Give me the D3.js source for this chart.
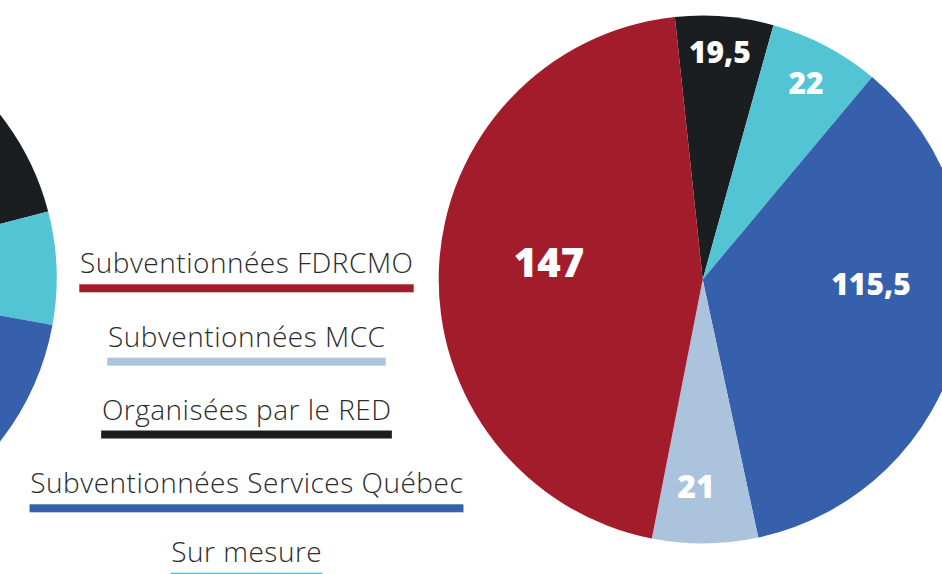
<!DOCTYPE html>
<html>
<head>
<meta charset="utf-8">
<script src="https://cdn.jsdelivr.net/npm/d3@7"></script>
<style>
  html, body { margin: 0; padding: 0; background: #ffffff; overflow: hidden; }
  svg { display: block; }
</style>
</head>
<body>
<svg id="chart" width="942" height="574"></svg>
<script>
// ---------- DATA ----------
const categories = [
  "Subventionnées FDRCMO",
  "Subventionnées MCC",
  "Organisées par le RED",
  "Subventionnées Services Québec",
  "Sur mesure"
];
// Right (fully labelled) pie
const valuesRight = [147, 21, 19.5, 115.5, 22];
const labelsRight = ["147", "21", "19,5", "115,5", "22"];
// Left pie (only a sliver visible, values estimated from visible angles)
const valuesLeft = [150, 20, 40, 100, 23];
// Clockwise drawing order of slices (indices into categories)
const sliceOrder = [2, 4, 3, 1, 0];

// ---------- STYLE ----------
const colors = ["#A31C2B", "#ABC3DD", "#1B1E21", "#3660AC", "#52C4D3"];
const textColor = "#2B2B2B";
const fontFamily = "'Open Sans', 'Noto Sans', sans-serif";
const deg = Math.PI / 180;

// label tweaks: radius as fraction of R, angle shift (deg) from slice middle, font size
const labelStyle = [
  { rf: 0.586, shift: 3.8, size: 40 },
  { rf: 0.785, shift: 2.4, size: 32 },
  { rf: 0.862, shift: -0.4, size: 30 },
  { rf: 0.638, shift: -12.3, size: 30 },
  { rf: 0.841, shift: 0, size: 30 }
];

// ---------- LAYOUT ----------
const svg = d3.select("#chart");
const R = 264;
const rightPie = { cx: 702.7, cy: 279.5, start: -6.06 * deg };
const leftPie = { cx: -207.3, cy: 278, start: 32.16 * deg };
const legendCx = 246.5;
const legendBaselines = [273.3, 346.7, 419.5, 493.3, 561.7];
const legendFontSize = 28;
const legendSpacing = 0.5;
const barGap = 11;
const barH = 8;

const arc = d3.arc().innerRadius(0).outerRadius(R);

function drawPie(values, conf, labels) {
  const ordered = sliceOrder.map(i => ({ idx: i, value: values[i] }));
  const pie = d3.pie()
    .sort(null)
    .value(d => d.value)
    .startAngle(conf.start)
    .endAngle(conf.start + 2 * Math.PI);
  const arcs = pie(ordered);
  const g = svg.append("g").attr("transform", `translate(${conf.cx},${conf.cy})`);
  g.selectAll("path.slice")
    .data(arcs)
    .join("path")
    .attr("class", "slice")
    .attr("d", arc)
    .attr("fill", d => colors[d.data.idx]);
  if (labels) {
    g.selectAll("text.val")
      .data(arcs)
      .join("text")
      .attr("class", "val")
      .each(function (d) {
        const st = labelStyle[d.data.idx];
        const a = (d.startAngle + d.endAngle) / 2 + st.shift * deg;
        const r = st.rf * R;
        d3.select(this)
          .attr("x", Math.sin(a) * r)
          .attr("y", -Math.cos(a) * r)
          .attr("dy", "0.36em")
          .attr("font-size", st.size);
      })
      .attr("text-anchor", "middle")
      .attr("font-family", fontFamily)
      .attr("font-weight", 800)
      .attr("fill", "#ffffff")
      .text(d => labels[d.data.idx]);
  }
}

drawPie(valuesLeft, leftPie, null);
drawPie(valuesRight, rightPie, labelsRight);

// ---------- LEGEND ----------
const legend = svg.append("g").attr("class", "legend");
categories.forEach((c, i) => {
  const t = legend.append("text")
    .attr("x", legendCx + legendSpacing / 2)
    .attr("y", legendBaselines[i])
    .attr("text-anchor", "middle")
    .attr("font-family", fontFamily)
    .attr("font-size", legendFontSize)
    .attr("font-weight", 300)
    .attr("letter-spacing", legendSpacing)
    .attr("fill", textColor)
    .text(c);
  const w = t.node().getComputedTextLength() - legendSpacing + 1.5;
  legend.append("rect")
    .attr("x", legendCx - w / 2)
    .attr("y", legendBaselines[i] + barGap)
    .attr("width", w)
    .attr("height", barH)
    .attr("fill", colors[i]);
});
</script>
</body>
</html>
